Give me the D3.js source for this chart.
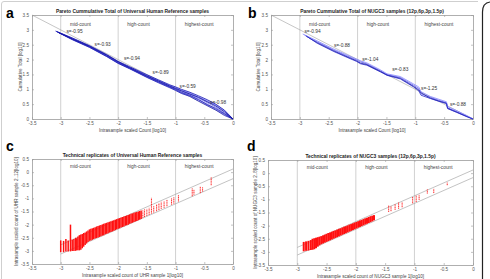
<!DOCTYPE html>
<html lang="en">
<head>
<meta charset="utf-8">
<script src="https://cdn.jsdelivr.net/npm/d3@7"></script>
<style>
  body { margin: 0; background: #fff; }
  text { font-family: "Liberation Sans", Arial, sans-serif; }
</style>
</head>
<body>
<div id="chart"></div>
<script>
// ticks and labels
var xTicks = [-3.5, -3, -2.5, -2, -1.5, -1, -0.5, 0];
var yTicksPareto = [0, 0.5, 1, 1.5, 2, 2.5, 3, 3.5];
var yTicksRep = [-3.5, -3, -2.5, -2, -1.5, -1, -0.5, 0, 0.5];
var regionNames = ["mid-count", "high-count", "highest-count"];
var regionX = [-3, -2, -1];

var titles = [
  "Pareto Cummulative Total of Universal Human Reference samples",
  "Pareto Cummulative Total of NUGC3 samples (12p,6p,3p,1.5p)",
  "Technical replicates of Universal Human Reference samples",
  "Technical replicates of NUGC3 samples (12p,6p,3p,1.5p)"
];
var xLabels = [
  "Intrasample scaled Count [log10]",
  "Intrasample scaled Count [log10]",
  "Intrasample scaled count of UHR sample 1[log10]",
  "Intrasample scaled count of NUGC3 sample 1[log10]"
];
var yLabels = [
  "Cumulative Total [log10]",
  "Cumulative Total [log10]",
  "Intrasample scaled count of UHR sample 2..12[log10]",
  "Intrasample scaled count of NUGC3 sample 2..8[log10]"
];

// slope annotations
var slopeTextA = ["s=-0.95", "s=-0.93", "s=-0.94", "s=-0.89", "s=-0.59", "s=-0.98"];
var slopeXA = [-2.9, -2.41, -1.9, -1.4, -0.93, -0.4];
var slopeYA = [2.95, 2.51, 2.03, 1.56, 1.11, 0.55];
var slopeTextB = ["s=-0.94", "s=-0.88", "s=-1.04", "s=-0.83", "s=-1.25", "s=-0.88"];
var slopeXB = [-2.92, -2.41, -1.92, -1.4, -0.9, -0.4];
var slopeYB = [2.94, 2.47, 2.01, 1.67, 1.03, 0.5];

// pareto curves, panel a (UHR samples)
var paretoXA = [-2.8, -2.5, -2.2, -2.0, -1.8, -1.5, -1.3, -1.1, -1.0, -0.9, -0.75, -0.6, -0.45, -0.3, -0.15, 0];
var startXA = [-3.06, -3.08, -3.04, -3.07, -3.05, -3.09, -3.03, -3.06];
var paretoA = [
  [2.93, 2.70, 2.44, 2.13, 1.90, 1.72, 1.44, 1.27, 1.10, 1.02, 0.93, 0.83, 0.70, 0.55, 0.40, 0.20, 0],
  [2.95, 2.72, 2.46, 2.16, 1.93, 1.75, 1.48, 1.30, 1.12, 1.05, 0.98, 0.88, 0.75, 0.62, 0.46, 0.26, 0],
  [2.91, 2.68, 2.42, 2.11, 1.88, 1.70, 1.41, 1.24, 1.07, 0.98, 0.88, 0.78, 0.64, 0.50, 0.33, 0.16, 0],
  [2.94, 2.71, 2.45, 2.14, 1.91, 1.74, 1.46, 1.29, 1.13, 1.06, 0.96, 0.86, 0.72, 0.60, 0.48, 0.28, 0],
  [2.92, 2.69, 2.43, 2.12, 1.89, 1.71, 1.43, 1.25, 1.08, 1.00, 0.90, 0.80, 0.66, 0.48, 0.36, 0.18, 0],
  [2.96, 2.73, 2.47, 2.17, 1.94, 1.76, 1.49, 1.32, 1.15, 1.08, 1.00, 0.90, 0.78, 0.65, 0.50, 0.30, 0],
  [2.90, 2.67, 2.41, 2.10, 1.87, 1.69, 1.40, 1.22, 1.05, 0.96, 0.86, 0.76, 0.60, 0.45, 0.30, 0.12, 0],
  [2.93, 2.70, 2.45, 2.15, 1.92, 1.73, 1.45, 1.28, 1.11, 1.03, 0.95, 0.84, 0.73, 0.58, 0.44, 0.24, 0]
];
var colorsA = ["#7070f0", "#9090ff", "#5050e0", "#8080f8", "#2828c0", "#1818b0", "#2020b8", "#10109c"];

// pareto curves, panel b (NUGC3 samples)
var paretoXB = [-2.7, -2.41, -2.2, -2.02, -1.95, -1.84, -1.6, -1.49, -1.26, -1.03, -0.94, -0.9, -0.74, -0.6, -0.46, -0.44, -0.28, -0.1, 0];
var startXB = [-2.92, -2.90, -2.95, -2.88];
var paretoB = [
  [2.83, 2.60, 2.32, 2.14, 1.99, 1.92, 1.86, 1.62, 1.50, 1.40, 1.14, 1.03, 0.85, 0.73, 0.64, 0.55, 0.38, 0.25, 0.09, 0],
  [2.80, 2.57, 2.29, 2.11, 1.96, 1.88, 1.83, 1.60, 1.48, 1.37, 1.10, 0.98, 0.88, 0.70, 0.61, 0.53, 0.36, 0.23, 0.08, 0],
  [2.86, 2.63, 2.35, 2.17, 2.02, 1.96, 1.89, 1.65, 1.52, 1.43, 1.18, 1.08, 0.92, 0.76, 0.67, 0.58, 0.42, 0.28, 0.11, 0],
  [2.78, 2.55, 2.27, 2.09, 1.94, 1.86, 1.81, 1.58, 1.47, 1.35, 1.08, 0.95, 0.80, 0.69, 0.60, 0.52, 0.35, 0.22, 0.07, 0]
];
var colorsB = ["#6a6af0", "#1818a8", "#8a8aff", "#2a2ac8"];

// replicate scatter, panel c: stripes of points at each sample-1 value
var stripeXC = [-3.00, -2.95, -2.91, -2.87, -2.83, -2.80, -2.77, -2.74, -2.72, -2.70,
  -2.675, -2.65, -2.625, -2.60, -2.575, -2.55, -2.525, -2.50, -2.475, -2.45, -2.425, -2.40,
  -2.375, -2.35, -2.325, -2.30, -2.275, -2.25, -2.225, -2.20, -2.175, -2.15, -2.125, -2.10,
  -2.075, -2.05, -2.025, -2.00, -1.975, -1.95, -1.925, -1.90, -1.875, -1.85, -1.825, -1.80,
  -1.775, -1.75, -1.725, -1.70, -1.675, -1.65, -1.625, -1.60,
  -1.57, -1.54, -1.50, -1.46, -1.42, -1.38, -1.33, -1.29, -1.25, -1.20, -1.15, -1.07, -1.03,
  -0.95, -0.71, -0.68, -0.57, -0.53, -0.38];
var stripeLoC = [-3.05, -3.05, -3.02, -3.02, -3.02, -3.00, -3.00, -3.00, -2.98, -2.98,
  -2.98, -2.96, -2.90, -2.84, -2.78, -2.72, -2.66, -2.62, -2.60, -2.58, -2.55, -2.53,
  -2.51, -2.49, -2.47, -2.44, -2.42, -2.40, -2.37, -2.35, -2.33, -2.30, -2.28, -2.26,
  -2.23, -2.21, -2.18, -2.16, -2.14, -2.11, -2.09, -2.07, -2.04, -2.02, -2.00, -1.97,
  -1.95, -1.93, -1.90, -1.88, -1.86, -1.83, -1.81, -1.79,
  -1.74, -1.71, -1.67, -1.63, -1.58, -1.54, -1.49, -1.45, -1.40, -1.36, -1.30, -1.24, -1.20,
  -1.12, -0.92, -0.86, -0.80, -0.74, -0.50];
var stripeHiC = [-2.60, -2.62, -2.55, -2.60, -2.00, -2.58, -2.55, -2.50, -2.52, -2.45,
  -2.40, -2.38, -2.36, -2.32, -2.30, -2.26, -2.22, -2.18, -2.16, -2.14, -2.12, -2.10,
  -2.07, -2.05, -2.03, -2.01, -1.99, -1.97, -1.95, -1.93, -1.91, -1.89, -1.87, -1.85,
  -1.83, -1.81, -1.79, -1.77, -1.75, -1.73, -1.71, -1.69, -1.67, -1.65, -1.63, -1.61,
  -1.59, -1.57, -1.55, -1.53, -1.52, -1.50, -1.48, -1.46,
  -1.46, -1.42, -1.40, -1.36, -0.98, -1.28, -1.22, -1.18, -1.13, -1.10, -1.06, -0.98, -0.94,
  -0.88, -0.62, -0.66, -0.56, -0.58, -0.20];

// replicate scatter, panel d
var stripeXD = [-2.89, -2.85, -2.81, -2.77, -2.74, -2.71,
  -2.68, -2.65, -2.62, -2.59, -2.56, -2.53, -2.50, -2.47, -2.44, -2.41, -2.38, -2.35, -2.32,
  -2.29, -2.26, -2.23, -2.20, -2.17, -2.14, -2.11, -2.08, -2.05, -2.02, -1.99, -1.96, -1.93,
  -1.90, -1.87, -1.84, -1.81, -1.78, -1.75, -1.72, -1.69,
  -1.44, -1.40, -1.33, -1.27, -1.21, -1.03, -0.97, -0.92, -0.78, -0.67, -0.44];
var stripeLoD = [-2.98, -2.96, -2.95, -2.93, -2.92, -2.90,
  -2.86, -2.80, -2.75, -2.71, -2.68, -2.65, -2.62, -2.59, -2.56, -2.53, -2.50, -2.47, -2.44,
  -2.41, -2.38, -2.35, -2.32, -2.29, -2.26, -2.23, -2.20, -2.17, -2.14, -2.11, -2.08, -2.05,
  -2.02, -1.99, -1.96, -1.93, -1.90, -1.87, -1.84, -1.80,
  -1.48, -1.45, -1.40, -1.36, -1.30, -1.15, -1.10, -1.02, -0.78, -0.76, -0.46];
var stripeHiD = [-2.62, -2.60, -2.58, -2.55, -2.50, -2.48,
  -2.46, -2.44, -2.42, -2.40, -2.37, -2.34, -2.31, -2.28, -2.26, -2.23, -2.20, -2.18, -2.15,
  -2.12, -2.10, -2.07, -2.04, -2.02, -1.99, -1.96, -1.94, -1.91, -1.88, -1.86, -1.83, -1.80,
  -1.78, -1.75, -1.72, -1.70, -1.67, -1.64, -1.62, -1.60,
  -1.22, -1.25, -1.18, -1.12, -1.10, -0.90, -0.85, -0.82, -0.62, -0.60, -0.36];

// bounding lines of the replicate plots: [x0, y0, x1, y1]
var boundsC = [[-3, -2.77, 0, 0.12], [-3, -3.12, 0, -0.25]];
var boundsD = [[-3, -2.83, 0, 0.12], [-3, -3.12, 0, -0.17]];

var svg = d3.select("#chart").append("svg")
  .attr("width", 490)
  .attr("height", 279);

// figure frame
svg.append("path")
  .attr("d", "M1.5,279 L1.5,4 Q1.5,1.5 4,1.5 L478,1.5")
  .attr("fill", "none").attr("stroke", "#cfcfcf").attr("stroke-width", 1);
svg.append("path")
  .attr("d", "M482.5,279 L482.5,12 Q482.5,3 490,2")
  .attr("fill", "none").attr("stroke", "#222").attr("stroke-width", 1.2);

var panels = [
  {letter: "a", lx: 6, ly: 18, left: 32, right: 233, top: 15, bottom: 119, yDom: [0, 3.5], yTicks: yTicksPareto, ylabX: 20.5},
  {letter: "b", lx: 248, ly: 18, left: 271, right: 473, top: 15, bottom: 119, yDom: [0, 3.5], yTicks: yTicksPareto, ylabX: 258.5},
  {letter: "c", lx: 6, ly: 151, left: 32, right: 233, top: 159, bottom: 264, yDom: [-3.5, 0.5], yTicks: yTicksRep, ylabX: 16},
  {letter: "d", lx: 247, ly: 151, left: 268, right: 473, top: 160, bottom: 265, yDom: [-3.5, 0.5], yTicks: yTicksRep, ylabX: 255}
];

function styleAxis(g) {
  g.select(".domain").attr("stroke", "#9a9a9a").attr("stroke-width", 0.8);
  g.selectAll("line").attr("stroke", "#9a9a9a").attr("stroke-width", 0.6);
  g.selectAll("text").attr("fill", "#555").style("font-size", "4.6px")
    .style("font-family", "'Liberation Sans', Arial, sans-serif");
}

function drawPanel(p, i) {
  var x = d3.scaleLinear().domain([-3.5, 0]).range([p.left, p.right]);
  var y = d3.scaleLinear().domain(p.yDom).range([p.bottom, p.top]);
  var g = svg.append("g");

  // region separators
  g.selectAll(".sep").data(regionX).enter().append("line")
    .attr("x1", function(d) { return x(d); })
    .attr("x2", function(d) { return x(d); })
    .attr("y1", p.top).attr("y2", p.bottom)
    .attr("stroke", "#c4c4c4").attr("stroke-width", 0.8);

  g.selectAll(".reg").data(regionNames).enter().append("text")
    .attr("x", function(d, j) { return x(regionX[j] + 0.16); })
    .attr("y", y(i < 2 ? 3.2 : 0.24))
    .attr("dy", "0.35em")
    .style("font-size", "4.8px").attr("fill", "#444")
    .text(function(d) { return d; });

  // axes with inward ticks on all four sides
  var bottomAx = g.append("g").attr("transform", "translate(0," + p.bottom + ")")
    .call(d3.axisBottom(x).tickValues(xTicks).tickSize(-2).tickPadding(3).tickSizeOuter(0)
      .tickFormat(function(d) { return d === 0 ? "0" : String(d); }));
  styleAxis(bottomAx);
  var leftAx = g.append("g").attr("transform", "translate(" + p.left + ",0)")
    .call(d3.axisLeft(y).tickValues(p.yTicks).tickSize(-2).tickPadding(3).tickSizeOuter(0)
      .tickFormat(function(d) { return String(d); }));
  styleAxis(leftAx);
  var topAx = g.append("g").attr("transform", "translate(0," + p.top + ")")
    .call(d3.axisTop(x).tickValues(xTicks).tickSize(-2).tickSizeOuter(0).tickFormat(""));
  styleAxis(topAx);
  var rightAx = g.append("g").attr("transform", "translate(" + p.right + ",0)")
    .call(d3.axisRight(y).tickValues(p.yTicks).tickSize(-2).tickSizeOuter(0).tickFormat(""));
  styleAxis(rightAx);

  // titles and labels
  svg.append("text").attr("x", p.lx).attr("y", p.ly)
    .style("font-size", "14px").style("font-weight", "bold").text(p.letter);
  svg.append("text").attr("x", (p.left + p.right) / 2).attr("y", p.top - 1.8)
    .attr("text-anchor", "middle").style("font-size", "4.9px").style("font-weight", "bold")
    .attr("fill", "#222").text(titles[i]);
  svg.append("text").attr("x", (p.left + p.right) / 2).attr("y", p.bottom + 11)
    .attr("dy", "0.35em").attr("text-anchor", "middle").style("font-size", "4.6px")
    .attr("fill", "#444").text(xLabels[i]);
  svg.append("text")
    .attr("transform", "translate(" + p.ylabX + "," + ((p.top + p.bottom) / 2) + ") rotate(-90)")
    .attr("dy", "0.35em").attr("text-anchor", "middle").style("font-size", "4.6px")
    .attr("fill", "#444").text(yLabels[i]);

  return {g: g, x: x, y: y};
}

var line = d3.line();

function drawPareto(pan, xs, starts, curves, colors, sTexts, sX, sY) {
  // diagonal reference
  pan.g.append("line")
    .attr("x1", pan.x(-3.5)).attr("y1", pan.y(3.5))
    .attr("x2", pan.x(0)).attr("y2", pan.y(0))
    .attr("stroke", "#a0a0a0").attr("stroke-width", 0.6);
  curves.forEach(function(ys, k) {
    var pts = [[pan.x(starts[k]), pan.y(ys[0])]];
    xs.forEach(function(xv, j) { pts.push([pan.x(xv), pan.y(ys[j + 1])]); });
    pan.g.append("path").attr("d", line(pts))
      .attr("fill", "none").attr("stroke", colors[k]).attr("stroke-width", 0.8);
  });
  pan.g.selectAll(".slope").data(sTexts).enter().append("text")
    .attr("x", function(d, j) { return pan.x(sX[j]); })
    .attr("y", function(d, j) { return pan.y(sY[j]); })
    .attr("dy", "0.35em").style("font-size", "4.8px").attr("fill", "#333")
    .text(function(d) { return d; });
}

function drawReplicates(pan, xs, lo, hi, bounds, denseWidth) {
  pan.g.selectAll(".bound").data(bounds).enter().append("line")
    .attr("x1", function(d) { return pan.x(d[0]); })
    .attr("y1", function(d) { return pan.y(d[1]); })
    .attr("x2", function(d) { return pan.x(d[2]); })
    .attr("y2", function(d) { return pan.y(d[3]); })
    .attr("stroke", "#9a9a9a").attr("stroke-width", 0.6);
  pan.g.selectAll(".stripe").data(xs).enter().append("line")
    .attr("x1", function(d) { return pan.x(d); })
    .attr("x2", function(d) { return pan.x(d); })
    .attr("y1", function(d, j) { return pan.y(lo[j]); })
    .attr("y2", function(d, j) { return pan.y(hi[j]); })
    .attr("stroke", "#ff1010")
    .attr("stroke-width", function(d) { return d < -1.59 ? denseWidth : 0.9; })
    .attr("stroke-dasharray", function(d) { return d < -1.59 ? null : "1.2,0.5"; });
}

var pa = drawPanel(panels[0], 0);
var pb = drawPanel(panels[1], 1);
var pc = drawPanel(panels[2], 2);
var pd = drawPanel(panels[3], 3);

drawPareto(pa, paretoXA, startXA, paretoA, colorsA, slopeTextA, slopeXA, slopeYA);
drawPareto(pb, paretoXB, startXB, paretoB, colorsB, slopeTextB, slopeXB, slopeYB);
drawReplicates(pc, stripeXC, stripeLoC, stripeHiC, boundsC, 1.5);
drawReplicates(pd, stripeXD, stripeLoD, stripeHiD, boundsD, 2);
</script>
</body>
</html>
